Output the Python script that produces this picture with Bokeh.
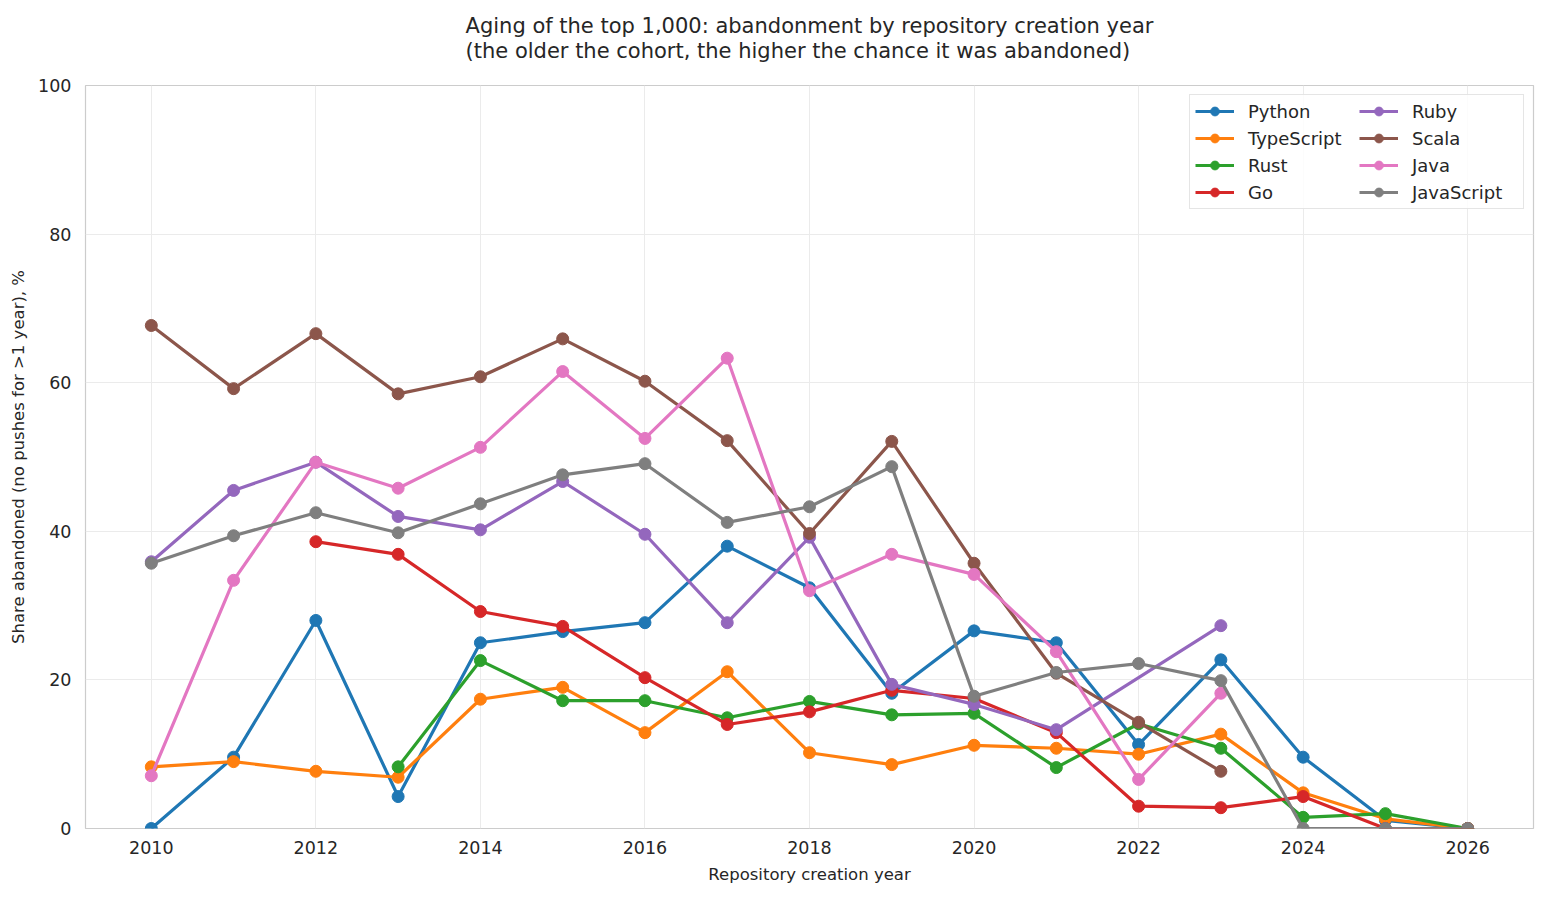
from bokeh.plotting import figure
from bokeh.models import Title, FixedTicker, Range1d, Legend
from bokeh.embed import file_html
from bokeh.resources import INLINE

# share abandoned (%) per creation-year cohort
py_years = [2010, 2011, 2012, 2013, 2014, 2015, 2016, 2017, 2018, 2019, 2020, 2021, 2022, 2023, 2024, 2025, 2026]
python_vals = [0.0, 9.6, 28.0, 4.3, 25.0, 26.5, 27.7, 38.0, 32.4, 18.2, 26.6, 25.0, 11.3, 22.7, 9.6, 1.1, 0.0]

ts_years = [2010, 2011, 2012, 2013, 2014, 2015, 2016, 2017, 2018, 2019, 2020, 2021, 2022, 2023, 2024, 2025, 2026]
typescript_vals = [8.3, 9.0, 7.7, 6.9, 17.4, 19.0, 12.9, 21.1, 10.2, 8.6, 11.2, 10.8, 10.0, 12.7, 4.8, 1.3, 0.0]

rust_years = [2013, 2014, 2015, 2016, 2017, 2018, 2019, 2020, 2021, 2022, 2023, 2024, 2025, 2026]
rust_vals = [8.3, 22.6, 17.2, 17.2, 14.9, 17.1, 15.3, 15.5, 8.2, 14.1, 10.8, 1.5, 2.0, 0.0]

go_years = [2012, 2013, 2014, 2015, 2016, 2017, 2018, 2019, 2020, 2021, 2022, 2023, 2024, 2025, 2026]
go_vals = [38.6, 36.9, 29.2, 27.2, 20.3, 14.0, 15.7, 18.6, 17.5, 12.9, 3.0, 2.8, 4.3, 0.0, 0.0]

ruby_years = [2010, 2011, 2012, 2013, 2014, 2015, 2016, 2017, 2018, 2019, 2020, 2021, 2023]
ruby_vals = [35.9, 45.5, 49.3, 42.0, 40.2, 46.7, 39.6, 27.7, 39.2, 19.4, 16.7, 13.3, 27.3]

scala_years = [2010, 2011, 2012, 2013, 2014, 2015, 2016, 2017, 2018, 2019, 2020, 2021, 2022, 2023]
scala_vals = [67.7, 59.2, 66.6, 58.5, 60.8, 65.9, 60.2, 52.2, 39.7, 52.1, 35.7, 20.9, 14.3, 7.7]

java_years = [2010, 2011, 2012, 2013, 2014, 2015, 2016, 2017, 2018, 2019, 2020, 2021, 2022, 2023]
java_vals = [7.1, 33.4, 49.3, 45.8, 51.3, 61.5, 52.5, 63.3, 32.0, 36.9, 34.2, 23.8, 6.6, 18.2]

js_years = [2010, 2011, 2012, 2013, 2014, 2015, 2016, 2017, 2018, 2019, 2020, 2021, 2022, 2023, 2024, 2025, 2026]
javascript_vals = [35.7, 39.4, 42.5, 39.8, 43.7, 47.6, 49.1, 41.2, 43.3, 48.7, 17.8, 21.0, 22.2, 19.9, 0.0, 0.0, 0.0]

x_ticks = [2010, 2012, 2014, 2016, 2018, 2020, 2022, 2024, 2026]
y_ticks = [0, 20, 40, 60, 80, 100]

series = [
    ("Python", py_years, python_vals, "#1f77b4"),
    ("TypeScript", ts_years, typescript_vals, "#ff7f0e"),
    ("Rust", rust_years, rust_vals, "#2ca02c"),
    ("Go", go_years, go_vals, "#d62728"),
    ("Ruby", ruby_years, ruby_vals, "#9467bd"),
    ("Scala", scala_years, scala_vals, "#8c564b"),
    ("Java", java_years, java_vals, "#e377c2"),
    ("JavaScript", js_years, javascript_vals, "#7f7f7f"),
]

TXT = "#262626"
FONT = "DejaVu Sans"

p = figure(
    width=1541, height=886,
    x_range=Range1d(2009.2, 2026.8), y_range=Range1d(0, 100),
    output_backend="svg", toolbar_location=None, title=None,
    min_border_left=85, min_border_right=8, min_border_top=0, min_border_bottom=0,
)
# thin empty title used as a gap between the heading and the frame
p.add_layout(Title(text=" ", text_font_size="1px", standoff=7), "above")
p.add_layout(Title(text="Aging of the top 1,000: abandonment by repository creation year\n"
                        "(the older the cohort, the higher the chance it was abandoned)",
                   align="center", text_font=FONT, text_font_size="21px",
                   text_font_style="normal", text_color=TXT, text_line_height=1.05,
                   standoff=24), "above")

p.outline_line_color = "#cccccc"
p.outline_line_width = 1.2
p.grid.grid_line_color = "#ebebeb"
p.grid.grid_line_width = 1
p.xaxis.ticker = FixedTicker(ticks=x_ticks)
p.yaxis.ticker = FixedTicker(ticks=y_ticks)
p.xaxis.axis_label = "Repository creation year"
p.yaxis.axis_label = "Share abandoned (no pushes for >1 year), %"
for ax in (p.xaxis, p.yaxis):
    ax.axis_line_color = None
    ax.major_tick_line_color = None
    ax.minor_tick_line_color = None
    ax.major_label_text_font = FONT
    ax.major_label_text_font_size = "17.5px"
    ax.major_label_text_color = TXT
    ax.axis_label_text_font = FONT
    ax.axis_label_text_font_size = "16.5px"
    ax.axis_label_text_font_style = "normal"
    ax.axis_label_text_color = TXT
p.xaxis.major_label_standoff = 6
p.yaxis.major_label_standoff = 8
p.xaxis.axis_label_standoff = 8
p.yaxis.axis_label_standoff = 7

items = []
for name, xs, ys, col in series:
    r1 = p.line(xs, ys, color=col, line_width=3.2)
    r2 = p.scatter(xs, ys, color=col, size=12)
    items.append((name, [r1, r2]))

legend = Legend(items=items, location="top_right", orientation="vertical", nrows=4)
legend.label_text_font = FONT
legend.label_text_font_size = "18px"
legend.label_text_color = TXT
legend.border_line_color = "#cccccc"
legend.background_fill_alpha = 0.85
legend.glyph_width = 39
legend.glyph_height = 22
legend.label_height = 22
legend.label_width = 106
legend.label_standoff = 14
legend.spacing = 5
legend.padding = 5
legend.margin = 9
p.add_layout(legend)

open("out.html", "w").write(file_html(p, INLINE))
